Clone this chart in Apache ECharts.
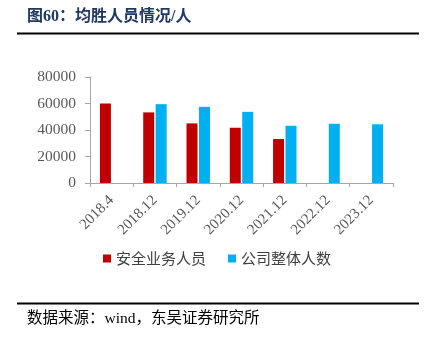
<!DOCTYPE html>
<html><head><meta charset="utf-8">
<script src="https://cdn.jsdelivr.net/npm/echarts@6/dist/echarts.min.js"></script>
<style>html,body{margin:0;padding:0;background:#fff}#c{width:427px;height:339px}</style>
</head><body><div id="c"></div>
<script>
const categories = ['2018.4','2018.12','2019.12','2020.12','2021.12','2022.12','2023.12'];
const safetyStaff = [60000, 53300, 45000, 41700, 33200, null, null];
const totalStaff = [null, 59500, 57500, 53700, 43200, 44700, 44300];
const yTicks = [0, 20000, 40000, 60000, 80000];
const seriesNames = ['安全业务人员', '公司整体人数'];
const titleText = '图60：均胜人员情况/人';
const sourceText = '数据来源：wind，东吴证券研究所';

const serif = '"Liberation Serif", "Noto Sans CJK SC", serif';
const chart = echarts.init(document.getElementById('c'));
chart.setOption({
  animation: false,
  graphic: [
    {type:'text', left:27, top:9, style:{text:titleText, font:'bold 16px "Liberation Serif", "Noto Sans CJK SC"', fill:'#1F3864'}},
    {type:'line', shape:{x1:17,y1:33.5,x2:419,y2:33.5}, style:{stroke:'#000',lineWidth:2}},
    {type:'line', shape:{x1:17,y1:303.5,x2:419,y2:303.5}, style:{stroke:'#000',lineWidth:2}},
    {type:'text', left:27, top:311, style:{text:sourceText, font:'15.5px "Liberation Serif", "Noto Sans CJK SC"', fill:'#000'}}
  ],
  grid: {left:90, right:34, top:77, bottom:156},
  legend: {
    left:98, top:246, itemWidth:8, itemHeight:8, itemGap:22,
    icon:'rect',
    textStyle:{fontFamily:'"Noto Sans CJK SC"', fontSize:15, color:'#404040'},
    data: seriesNames
  },
  xAxis: {
    type:'category', data:categories,
    axisLine:{lineStyle:{color:'#A6A6A6'}},
    axisTick:{show:true, length:4, lineStyle:{color:'#A6A6A6'}},
    axisLabel:{rotate:45, color:'#595959', fontFamily:serif, fontSize:15, margin:15, interval:0}
  },
  yAxis: {
    type:'value', min:0, max:80000, interval:20000,
    axisLine:{show:true, lineStyle:{color:'#A6A6A6'}},
    axisTick:{show:true, length:5, lineStyle:{color:'#A6A6A6'}},
    splitLine:{show:false},
    axisLabel:{color:'#595959', fontFamily:serif, fontSize:15.5, margin:14,
      formatter:v => yTicks.includes(v) ? String(v) : ''}
  },
  series: [
    {name:seriesNames[0], type:'bar', data:safetyStaff, barWidth:11, barGap:'13%', itemStyle:{color:'#C00000'}},
    {name:seriesNames[1], type:'bar', data:totalStaff, barWidth:11, barGap:'13%', itemStyle:{color:'#00B0F0'}}
  ]
});
</script></body></html>
